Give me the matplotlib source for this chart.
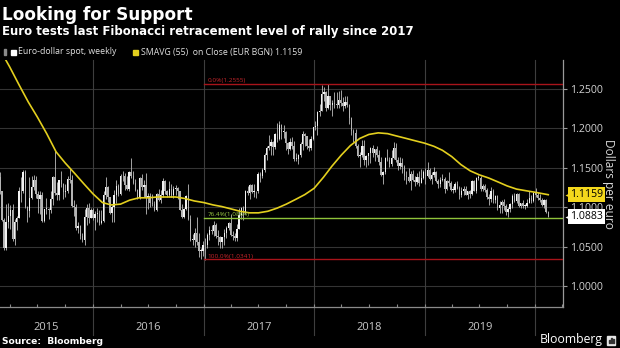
import numpy as np
import pandas as pd
import matplotlib
matplotlib.use("Agg")
import matplotlib.pyplot as plt
import matplotlib.dates as mdates
from matplotlib.patches import Rectangle
from matplotlib.transforms import blended_transform_factory

# EUR/USD weekly bars, one per Friday starting 2015-02-20
first_week = "2015-02-20"
first_open = 1.139

weekly_close = [
    # 2015
    1.138, 1.120, 1.084, 1.049, 1.082, 1.089, 1.097, 1.060, 1.081, 1.087,
    1.120, 1.120, 1.145, 1.101, 1.095, 1.112, 1.126, 1.135, 1.117, 1.111,
    1.116, 1.083, 1.098, 1.098, 1.097, 1.110, 1.138, 1.118, 1.115, 1.134,
    1.130, 1.119, 1.121, 1.136, 1.135, 1.102, 1.100, 1.074, 1.077, 1.064,
    1.059, 1.088, 1.099, 1.087, 1.097, 1.086,
    # 2016
    1.092, 1.092, 1.080, 1.083, 1.116, 1.126, 1.113, 1.093, 1.100, 1.115,
    1.127, 1.117, 1.139, 1.140, 1.128, 1.123, 1.145, 1.140, 1.131, 1.122,
    1.112, 1.137, 1.125, 1.128, 1.112, 1.114, 1.105, 1.104, 1.097, 1.117,
    1.109, 1.116, 1.133, 1.120, 1.115, 1.123, 1.115, 1.123, 1.124, 1.120,
    1.097, 1.088, 1.098, 1.114, 1.085, 1.059, 1.059, 1.067, 1.056, 1.045,
    1.045, 1.052,
    # 2017
    1.053, 1.065, 1.071, 1.070, 1.078, 1.064, 1.062, 1.056, 1.062, 1.067,
    1.074, 1.080, 1.065, 1.064, 1.061, 1.073, 1.090, 1.099, 1.093, 1.121,
    1.118, 1.128, 1.119, 1.120, 1.120, 1.142, 1.140, 1.147, 1.166, 1.175,
    1.177, 1.182, 1.176, 1.192, 1.186, 1.204, 1.195, 1.195, 1.181, 1.173,
    1.182, 1.178, 1.161, 1.161, 1.166, 1.180, 1.193, 1.190, 1.177, 1.175,
    1.186, 1.201,
    # 2018
    1.203, 1.220, 1.222, 1.243, 1.246, 1.225, 1.240, 1.229, 1.232, 1.231,
    1.229, 1.235, 1.232, 1.228, 1.233, 1.229, 1.213, 1.196, 1.194, 1.177,
    1.165, 1.166, 1.177, 1.160, 1.165, 1.168, 1.175, 1.168, 1.173, 1.166,
    1.157, 1.141, 1.144, 1.162, 1.160, 1.155, 1.162, 1.175, 1.160, 1.152,
    1.156, 1.151, 1.140, 1.138, 1.133, 1.142, 1.134, 1.132, 1.138, 1.131,
    1.137, 1.144,
    # 2019
    1.139, 1.147, 1.136, 1.141, 1.145, 1.133, 1.130, 1.134, 1.136, 1.123,
    1.133, 1.131, 1.122, 1.122, 1.130, 1.124, 1.115, 1.120, 1.123, 1.116,
    1.120, 1.117, 1.133, 1.121, 1.137, 1.137, 1.123, 1.127, 1.122, 1.113,
    1.111, 1.120, 1.109, 1.114, 1.099, 1.103, 1.107, 1.102, 1.094, 1.098,
    1.104, 1.114, 1.108, 1.117, 1.102, 1.105, 1.102, 1.102, 1.106, 1.112,
    1.108, 1.118, 1.116,
    # 2020
    1.112, 1.109, 1.103, 1.109, 1.094, 1.0883,
]

weekly_high = [
    # 2015
    1.145, 1.145, 1.121, 1.086, 1.104, 1.105, 1.103, 1.104, 1.085, 1.089,
    1.125, 1.138, 1.147, 1.147, 1.102, 1.138, 1.139, 1.141, 1.140, 1.120,
    1.120, 1.119, 1.098, 1.112, 1.099, 1.121, 1.139, 1.171, 1.132, 1.135,
    1.146, 1.131, 1.129, 1.139, 1.149, 1.141, 1.109, 1.104, 1.081, 1.078,
    1.067, 1.098, 1.104, 1.106, 1.099, 1.099,
    # 2016
    1.095, 1.099, 1.097, 1.096, 1.121, 1.138, 1.127, 1.113, 1.103, 1.122,
    1.134, 1.130, 1.142, 1.146, 1.143, 1.140, 1.146, 1.162, 1.146, 1.136,
    1.123, 1.138, 1.142, 1.134, 1.143, 1.118, 1.118, 1.117, 1.108, 1.118,
    1.123, 1.122, 1.137, 1.135, 1.122, 1.133, 1.130, 1.127, 1.128, 1.125,
    1.121, 1.104, 1.099, 1.115, 1.130, 1.090, 1.066, 1.074, 1.088, 1.068,
    1.048, 1.058,
    # 2017
    1.061, 1.068, 1.077, 1.078, 1.083, 1.080, 1.071, 1.064, 1.063, 1.072,
    1.077, 1.082, 1.091, 1.070, 1.068, 1.079, 1.099, 1.100, 1.102, 1.122,
    1.127, 1.129, 1.129, 1.130, 1.121, 1.145, 1.145, 1.149, 1.168, 1.177,
    1.191, 1.186, 1.184, 1.194, 1.207, 1.209, 1.205, 1.204, 1.196, 1.183,
    1.188, 1.189, 1.184, 1.169, 1.167, 1.183, 1.196, 1.194, 1.190, 1.186,
    1.190, 1.202,
    # 2018
    1.209, 1.221, 1.230, 1.254, 1.252, 1.247, 1.256, 1.241, 1.236, 1.245,
    1.245, 1.247, 1.248, 1.239, 1.240, 1.241, 1.230, 1.214, 1.199, 1.199,
    1.180, 1.170, 1.185, 1.185, 1.166, 1.169, 1.176, 1.179, 1.174, 1.177,
    1.172, 1.163, 1.146, 1.163, 1.174, 1.164, 1.172, 1.182, 1.181, 1.163,
    1.164, 1.162, 1.153, 1.146, 1.150, 1.146, 1.147, 1.140, 1.143, 1.146,
    1.148, 1.147,
    # 2019
    1.150, 1.157, 1.150, 1.145, 1.151, 1.146, 1.136, 1.138, 1.142, 1.138,
    1.134, 1.145, 1.133, 1.127, 1.132, 1.133, 1.127, 1.126, 1.127, 1.127,
    1.121, 1.122, 1.135, 1.135, 1.138, 1.141, 1.139, 1.129, 1.129, 1.124,
    1.117, 1.125, 1.123, 1.115, 1.116, 1.108, 1.109, 1.110, 1.104, 1.100,
    1.105, 1.117, 1.118, 1.118, 1.118, 1.106, 1.109, 1.104, 1.111, 1.120,
    1.115, 1.119, 1.124,
    # 2020
    1.119, 1.117, 1.112, 1.110, 1.110, 1.095,
]

weekly_low = [
    # 2015
    1.126, 1.117, 1.083, 1.046, 1.046, 1.074, 1.072, 1.057, 1.052, 1.071,
    1.086, 1.107, 1.118, 1.099, 1.082, 1.088, 1.111, 1.122, 1.112, 1.093,
    1.092, 1.082, 1.081, 1.091, 1.085, 1.093, 1.103, 1.116, 1.109, 1.109,
    1.125, 1.111, 1.113, 1.118, 1.131, 1.101, 1.089, 1.071, 1.067, 1.060,
    1.056, 1.052, 1.078, 1.080, 1.086, 1.084,
    # 2016
    1.071, 1.082, 1.078, 1.079, 1.081, 1.111, 1.107, 1.092, 1.081, 1.082,
    1.105, 1.114, 1.115, 1.133, 1.122, 1.122, 1.121, 1.137, 1.130, 1.120,
    1.110, 1.110, 1.122, 1.113, 1.091, 1.098, 1.100, 1.102, 1.095, 1.095,
    1.108, 1.105, 1.113, 1.117, 1.113, 1.113, 1.113, 1.112, 1.116, 1.110,
    1.096, 1.086, 1.086, 1.096, 1.084, 1.057, 1.052, 1.050, 1.052, 1.037,
    1.035, 1.039,
    # 2017
    1.034, 1.048, 1.059, 1.066, 1.064, 1.061, 1.052, 1.049, 1.049, 1.052,
    1.061, 1.071, 1.064, 1.059, 1.058, 1.058, 1.072, 1.085, 1.084, 1.091,
    1.115, 1.111, 1.118, 1.113, 1.112, 1.118, 1.132, 1.137, 1.144, 1.160,
    1.172, 1.166, 1.166, 1.174, 1.182, 1.185, 1.186, 1.187, 1.172, 1.167,
    1.172, 1.173, 1.158, 1.158, 1.155, 1.163, 1.172, 1.178, 1.173, 1.171,
    1.172, 1.185,
    # 2018
    1.198, 1.191, 1.215, 1.221, 1.234, 1.221, 1.224, 1.223, 1.215, 1.226,
    1.225, 1.226, 1.228, 1.221, 1.226, 1.227, 1.205, 1.191, 1.182, 1.175,
    1.163, 1.151, 1.164, 1.154, 1.151, 1.153, 1.156, 1.164, 1.158, 1.163,
    1.153, 1.140, 1.130, 1.142, 1.159, 1.151, 1.152, 1.161, 1.157, 1.147,
    1.148, 1.143, 1.134, 1.130, 1.132, 1.122, 1.133, 1.127, 1.130, 1.127,
    1.131, 1.136,
    # 2019
    1.130, 1.138, 1.135, 1.129, 1.138, 1.132, 1.124, 1.126, 1.133, 1.118,
    1.122, 1.127, 1.121, 1.118, 1.119, 1.123, 1.111, 1.113, 1.116, 1.115,
    1.111, 1.112, 1.116, 1.120, 1.118, 1.134, 1.121, 1.120, 1.119, 1.110,
    1.103, 1.107, 1.106, 1.105, 1.097, 1.093, 1.093, 1.097, 1.090, 1.088,
    1.094, 1.099, 1.107, 1.106, 1.101, 1.099, 1.099, 1.098, 1.101, 1.105,
    1.106, 1.107, 1.113,
    # 2020
    1.109, 1.107, 1.102, 1.099, 1.093, 1.088,
]

# 55-week simple moving average of the close
sma_dates = [
    "2015-02-20", "2015-03-01", "2015-04-01", "2015-05-01", "2015-06-01",
    "2015-07-01", "2015-08-01", "2015-09-01", "2015-10-01", "2015-11-01",
    "2015-12-01", "2016-01-01", "2016-02-01", "2016-03-01", "2016-04-01",
    "2016-05-01", "2016-06-01", "2016-07-01", "2016-08-01", "2016-09-01",
    "2016-10-01", "2016-11-01", "2016-12-01", "2017-01-01", "2017-02-01",
    "2017-03-01", "2017-04-01", "2017-05-01", "2017-06-01", "2017-07-01",
    "2017-08-01", "2017-09-01", "2017-10-01", "2017-11-01", "2017-12-01",
    "2018-01-01", "2018-02-01", "2018-03-01", "2018-04-01", "2018-05-01",
    "2018-06-01", "2018-07-01", "2018-08-01", "2018-09-01", "2018-10-01",
    "2018-11-01", "2018-12-01", "2019-01-01", "2019-02-01", "2019-03-01",
    "2019-04-01", "2019-05-01", "2019-06-01", "2019-07-01", "2019-08-01",
    "2019-09-01", "2019-10-01", "2019-11-01", "2019-12-01", "2020-01-01",
    "2020-02-14",
]
sma_values = [
    1.304, 1.298, 1.277, 1.255, 1.233,
    1.214, 1.193, 1.170, 1.156, 1.143,
    1.130, 1.117, 1.106, 1.103, 1.104,
    1.109, 1.112, 1.112, 1.113, 1.113,
    1.113, 1.111, 1.108, 1.106, 1.103,
    1.101, 1.098, 1.095, 1.093, 1.093,
    1.095, 1.099, 1.104, 1.110, 1.116,
    1.124, 1.138, 1.152, 1.166, 1.178,
    1.187, 1.192, 1.194, 1.193, 1.190,
    1.187, 1.184, 1.181, 1.177, 1.172,
    1.164, 1.154, 1.146, 1.141, 1.137,
    1.132, 1.127, 1.123, 1.121, 1.119,
    1.1159,
]

# Fibonacci retracement of the Jan 2017 low -> Feb 2018 high rally
fib_start = "2017-01-03"
fib_low = 1.0341
fib_high = 1.2555
fib_levels = [0.0, 76.4, 100.0]

years = [2015, 2016, 2017, 2018, 2019]
y_ticks = [1.00, 1.05, 1.10, 1.15, 1.20, 1.25]

last_close = weekly_close[-1]
last_sma = sma_values[-1]

BG = "black"
SMA_COLOR = "#e3cf1e"
RED = "#a8141a"
GREEN = "#8fc33a"
SANS = ["Open Sans", "DejaVu Sans"]

assert len(weekly_close) == len(weekly_high) == len(weekly_low)

W, H = 620, 348
fig = plt.figure(figsize=(W / 100, H / 100), dpi=100, facecolor=BG)


def fx(x):
    return x / W


def fy(y):
    return 1 - y / H


ax = fig.add_axes([0, fy(307), fx(563), (307 - 60) / H], facecolor=BG)

week_dates = pd.date_range(first_week, periods=len(weekly_close), freq="W-FRI")
xd = mdates.date2num(week_dates)
close = np.array(weekly_close)
opens = np.concatenate([[first_open], close[:-1]])
highs = np.array(weekly_high)
lows = np.array(weekly_low)

# axis range: 2016-01-01 sits 93 px from the left, 0.3025 px per day
ref = mdates.date2num(pd.Timestamp("2016-01-01"))
ax.set_xlim(ref - 93 / 0.3025, ref + 470 / 0.3025)
ax.set_ylim(0.9741, 1.286)

# grid
for v in y_ticks:
    ax.axhline(v, color="#343434", lw=0.8, zorder=0)
trans_x = blended_transform_factory(ax.transData, ax.transAxes)
for yr in range(2016, 2021):
    d = mdates.date2num(pd.Timestamp(f"{yr}-01-01"))
    ax.plot([d, d], [-28 / 247, 1], transform=trans_x, color="#3e3e3e",
            lw=0.8, clip_on=False, zorder=0)

# candles
up = close >= opens
ax.vlines(xd, lows, highs, color="#bdbdbd", lw=0.6, zorder=2)
body_lo = np.minimum(opens, close)
body_h = np.maximum(np.abs(close - opens), 0.0008)
ax.bar(xd[up], body_h[up], bottom=body_lo[up], width=4.6,
       color="#f2f2f2", lw=0, zorder=3)
ax.bar(xd[~up], body_h[~up], bottom=body_lo[~up], width=4.6,
       color="#b4b4b4", lw=0, zorder=3)

# moving average
ax.plot(mdates.date2num(pd.to_datetime(sma_dates)), sma_values,
        color=SMA_COLOR, lw=1.2, zorder=4)

# fibonacci levels
fx0 = mdates.date2num(pd.Timestamp(fib_start))
x_end = ax.get_xlim()[1]
for lvl in fib_levels:
    val = fib_high - (fib_high - fib_low) * lvl / 100
    col = GREEN if 0 < lvl < 100 else RED
    txt_col = "#9ccc44" if 0 < lvl < 100 else "#c8262c"
    ax.plot([fx0, x_end], [val, val], color=col, lw=1.0, zorder=5)
    ax.text(fx0 + 10, val + 0.0012, f"{lvl:.1f}%({val:.4f})",
            color=txt_col, fontsize=4.6, family=SANS, va="bottom",
            ha="left", zorder=5)

# axes frame
for side in ["top", "left"]:
    ax.spines[side].set_visible(False)
ax.spines["bottom"].set_color("#8a8a8a")
ax.spines["right"].set_color("#9a9a9a")
ax.spines["bottom"].set_linewidth(0.9)
ax.spines["right"].set_linewidth(0.9)

ax.yaxis.tick_right()
ax.set_yticks(y_ticks)
ax.set_yticklabels([f"{v:.4f}" for v in y_ticks], family=SANS,
                   fontsize=7.6, color="#d2d2d2")
ax.tick_params(axis="y", direction="out", length=3, width=0.8,
               color="#9a9a9a", pad=2)

quarters = [mdates.date2num(pd.Timestamp(f"{yr}-{m:02d}-01"))
            for yr in range(2015, 2021) for m in (1, 4, 7, 10)]
ax.set_xticks([q for q in quarters if ax.get_xlim()[0] < q < x_end])
ax.set_xticklabels([])
ax.tick_params(axis="x", direction="in", length=2, width=0.8,
               color="#8a8a8a")

# year labels centred on the visible part of each year
x_lo = ax.get_xlim()[0]
for yr in years:
    a = max(mdates.date2num(pd.Timestamp(f"{yr}-01-01")), x_lo)
    b = mdates.date2num(pd.Timestamp(f"{yr + 1}-01-01"))
    ax.text((a + b) / 2, -20 / 247, str(yr), transform=trans_x,
            ha="center", va="center", color="#c8c8c8", fontsize=8,
            family=SANS)

# value tags on the right axis
trans_tag = blended_transform_factory(ax.transAxes, ax.transData)
for val, face in [(last_sma, "#f4d81c"), (last_close, "white")]:
    ax.text(1 + 7 / 563, val, f"{val:.4f}", transform=trans_tag,
            ha="left", va="center", fontsize=7.6, family=SANS,
            color="black", zorder=10, clip_on=False,
            bbox=dict(boxstyle="square,pad=0.18", fc=face, ec="none"))
    ax.plot([1 + 4.5 / 563], [val], transform=trans_tag, marker="<",
            ms=5, color=face, mec="none", clip_on=False, zorder=10)

fig.text(fx(609), fy(184), "Dollars per euro", rotation=270,
         ha="center", va="center", color="#d8d8d8", fontsize=8.6,
         family=SANS)

# titles
fig.text(fx(2), fy(19.5), "Looking for Support", color="white",
         fontsize=12.2, weight="bold", family="DejaVu Sans", va="baseline")
fig.text(fx(2), fy(35.5),
         "Euro tests last Fibonacci retracement level of rally since 2017",
         color="white", fontsize=8.5, weight="bold", family="DejaVu Sans",
         va="baseline")

# legend
fig.patches.append(Rectangle((fx(4), fy(55)), 2 / W, 6 / H, color="#8a8a8a",
                             transform=fig.transFigure, figure=fig))
fig.patches.append(Rectangle((fx(10.5), fy(54.5)), 5 / W, 5 / H,
                             color="white", transform=fig.transFigure,
                             figure=fig))
fig.text(fx(18), fy(52), "Euro-dollar spot, weekly", color="#e0e0e0",
         fontsize=6.3, family=SANS, va="center")
fig.patches.append(Rectangle((fx(133), fy(54.5)), 5 / W, 5 / H,
                             color=SMA_COLOR, transform=fig.transFigure,
                             figure=fig))
fig.text(fx(141), fy(52), f"SMAVG (55)  on Close (EUR BGN) {last_sma:.4f}",
         color="#e0e0e0", fontsize=6.3, family=SANS, va="center")

# footer
fig.text(fx(2), fy(341), "Source:  Bloomberg", color="white", fontsize=6.6,
         weight="bold", family="DejaVu Sans", va="center")
fig.text(fx(603), fy(340), "Bloomberg", color="white", fontsize=8.8,
         family=SANS, ha="right", va="center")
fig.patches.append(Rectangle((fx(607), fy(344.5)), 8 / W, 9 / H,
                             color="#e6e6e6", transform=fig.transFigure,
                             figure=fig))
for i, hgt in enumerate([3, 5, 4]):
    fig.patches.append(Rectangle((fx(608.5 + i * 2), fy(343)), 1.2 / W,
                                 hgt / H, color="#333333",
                                 transform=fig.transFigure, figure=fig))

fig.savefig("out.png", dpi=100, facecolor=BG)
